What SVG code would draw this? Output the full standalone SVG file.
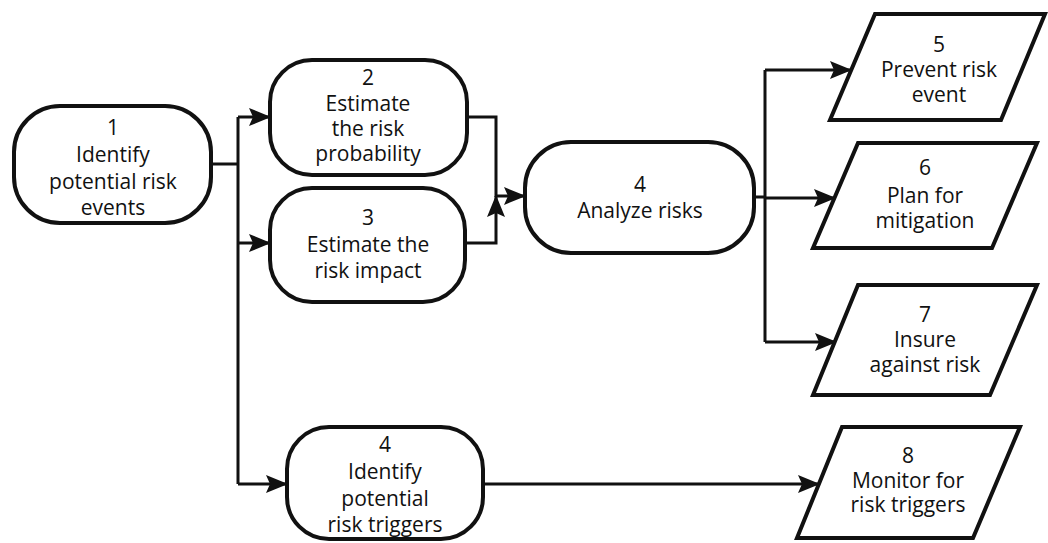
<svg xmlns="http://www.w3.org/2000/svg" width="1048" height="543" viewBox="0 0 1048 543">
<defs>
<marker id="ah" markerUnits="userSpaceOnUse" markerWidth="22" markerHeight="18" refX="21" refY="9" orient="auto">
<path d="M0,0 L22,9 L0,18 L4,9 z" fill="#111"/>
</marker>
<style>
.n{fill:#fff;stroke:#111;stroke-width:4}
.c{fill:none;stroke:#111;stroke-width:3}
.t{font-family:"Open Sans","DejaVu Sans",sans-serif;font-size:21px;fill:#111;text-anchor:middle}
</style>
</defs>
<rect width="1048" height="543" fill="#fff"/>
<g id="connectors">
<path class="c" d="M211,164 H238"/>
<path class="c" d="M238,117 V484"/>
<path class="c" d="M238,117 H270" marker-end="url(#ah)"/>
<path class="c" d="M238,243 H270" marker-end="url(#ah)"/>
<path class="c" d="M238,484 H287" marker-end="url(#ah)"/>
<path class="c" d="M467,117 H496 V197"/>
<path class="c" d="M465,243 H496 V196" marker-end="url(#ah)"/>
<path class="c" d="M496,196 H525" marker-end="url(#ah)"/>
<path class="c" d="M754,197 H765"/>
<path class="c" d="M765,70 V342"/>
<path class="c" d="M765,70 H851" marker-end="url(#ah)"/>
<path class="c" d="M765,198 H835" marker-end="url(#ah)"/>
<path class="c" d="M765,342 H836" marker-end="url(#ah)"/>
<path class="c" d="M483,484 H819" marker-end="url(#ah)"/>
</g>
<g id="node1">
<rect class="n" x="14" y="106" width="197" height="117" rx="46"/>
<text class="t" x="113" y="135" font-size="22">1</text>
<text class="t" x="113" y="162" font-size="22">Identify</text>
<text class="t" x="113" y="189" font-size="22">potential risk</text>
<text class="t" x="113" y="215" font-size="22">events</text>
</g>
<g id="node2">
<rect class="n" x="270" y="60" width="197" height="115" rx="42"/>
<text class="t" x="368" y="85">2</text>
<text class="t" x="368" y="111">Estimate</text>
<text class="t" x="368" y="136">the risk</text>
<text class="t" x="368" y="161">probability</text>
</g>
<g id="node3">
<rect class="n" x="270" y="188" width="195" height="114" rx="42"/>
<text class="t" x="368" y="225">3</text>
<text class="t" x="368" y="252">Estimate the</text>
<text class="t" x="368" y="278">risk impact</text>
</g>
<g id="node4">
<rect class="n" x="525" y="142" width="229" height="111" rx="46"/>
<text class="t" x="640" y="192" font-size="22">4</text>
<text class="t" x="640" y="218" font-size="22">Analyze risks</text>
</g>
<g id="node4b">
<rect class="n" x="287" y="427" width="196" height="112" rx="42"/>
<text class="t" x="385" y="452">4</text>
<text class="t" x="385" y="479">Identify</text>
<text class="t" x="385" y="506">potential</text>
<text class="t" x="385" y="532">risk triggers</text>
</g>
<g id="node5">
<polygon class="n" points="875,14 1045,14 1001,120 830,120"/>
<text class="t" x="939" y="52">5</text>
<text class="t" x="939" y="77">Prevent risk</text>
<text class="t" x="939" y="102">event</text>
</g>
<g id="node6">
<polygon class="n" points="858,143 1037,143 992,248 813,248"/>
<text class="t" x="925" y="175">6</text>
<text class="t" x="925" y="203">Plan for</text>
<text class="t" x="925" y="228">mitigation</text>
</g>
<g id="node7">
<polygon class="n" points="858,285 1037,285 990,395 813,395"/>
<text class="t" x="925" y="322">7</text>
<text class="t" x="925" y="347">Insure</text>
<text class="t" x="925" y="372">against risk</text>
</g>
<g id="node8">
<polygon class="n" points="842,427 1020,427 973,538 797,538"/>
<text class="t" x="908" y="463">8</text>
<text class="t" x="908" y="488">Monitor for</text>
<text class="t" x="908" y="512">risk triggers</text>
</g>
</svg>
